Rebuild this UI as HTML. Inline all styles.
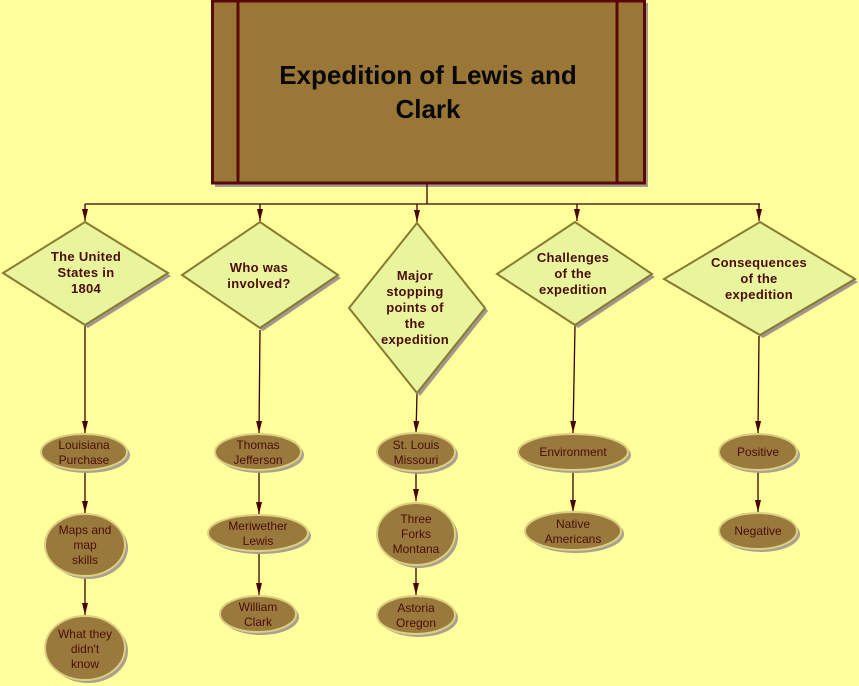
<!DOCTYPE html>
<html><head><meta charset="utf-8"><style>
html,body{margin:0;padding:0;background:#ffff9c;}
svg{display:block}
.d{font-family:"Liberation Sans",sans-serif;font-weight:bold;font-size:13px;fill:#4a0c0c;text-anchor:middle;letter-spacing:0.3px}
.e{font-family:"Liberation Sans",sans-serif;font-size:12px;fill:#4a0c0c;text-anchor:middle}
</style></head><body>
<svg width="859" height="686" viewBox="0 0 859 686" xmlns="http://www.w3.org/2000/svg">
<defs>
<marker id="a" viewBox="0 0 12 8" refX="12" refY="4" markerWidth="12" markerHeight="8" markerUnits="userSpaceOnUse" orient="auto">
<path d="M0,1 L12,4 L0,7 Z" fill="#4a0000"/></marker>
</defs>
<rect width="859" height="686" fill="#ffff9c"/>
<!-- title box -->
<rect x="215" y="3" width="433" height="184" fill="#a09a90"/>
<rect x="212.5" y="1" width="432" height="182" fill="#9a7637" stroke="#5a0808" stroke-width="3"/>
<line x1="238" y1="1" x2="238" y2="183" stroke="#5a0808" stroke-width="3"/>
<line x1="617" y1="1" x2="617" y2="183" stroke="#5a0808" stroke-width="3"/>
<text x="428" y="84" font-family="Liberation Sans, sans-serif" font-weight="bold" font-size="26" text-anchor="middle" fill="#080808">Expedition of Lewis and</text>
<text x="428" y="118" font-family="Liberation Sans, sans-serif" font-weight="bold" font-size="26" text-anchor="middle" fill="#080808">Clark</text>
<!-- connectors -->
<g stroke="#3a0000" stroke-width="1.3" fill="none">
<line x1="427" y1="184" x2="427" y2="204"/>
<line x1="85" y1="204" x2="760" y2="204"/>
<line x1="85" y1="204" x2="85" y2="221" marker-end="url(#a)"/>
<line x1="260" y1="204" x2="260" y2="221" marker-end="url(#a)"/>
<line x1="417" y1="204" x2="417" y2="222" marker-end="url(#a)"/>
<line x1="577" y1="204" x2="577" y2="221" marker-end="url(#a)"/>
<line x1="759" y1="204" x2="759" y2="221" marker-end="url(#a)"/>
<line x1="85" y1="326" x2="85" y2="433" marker-end="url(#a)"/>
<line x1="260" y1="330" x2="259" y2="433" marker-end="url(#a)"/>
<line x1="417" y1="394" x2="416" y2="433" marker-end="url(#a)"/>
<line x1="575" y1="326" x2="573" y2="433" marker-end="url(#a)"/>
<line x1="759" y1="336" x2="758" y2="433" marker-end="url(#a)"/>
<line x1="85" y1="471" x2="85" y2="513" marker-end="url(#a)"/>
<line x1="85" y1="577" x2="85" y2="615" marker-end="url(#a)"/>
<line x1="259" y1="471" x2="259" y2="514" marker-end="url(#a)"/>
<line x1="259" y1="552" x2="259" y2="595" marker-end="url(#a)"/>
<line x1="416" y1="471" x2="416" y2="501" marker-end="url(#a)"/>
<line x1="416" y1="566" x2="416" y2="595" marker-end="url(#a)"/>
<line x1="573" y1="470" x2="573" y2="512" marker-end="url(#a)"/>
<line x1="758" y1="470" x2="758" y2="512" marker-end="url(#a)"/>
</g>
<!-- diamonds -->
<g stroke="#8a7a30" stroke-width="2" fill="#e8f59c">
<polygon points="88,227 171,276 88,328 6,276" fill="#a09890" stroke="none"/>
<polygon points="85,222 168,273 85,325 3,273"/>
<polygon points="263,227 341,278 263,331 185,278" fill="#a09890" stroke="none"/>
<polygon points="260,222 338,275 260,328 182,275"/>
<polygon points="420,228 488,311 420,396 352,311" fill="#a09890" stroke="none"/>
<polygon points="417,223 485,308 417,393 349,308"/>
<polygon points="578,227 655,277 578,328 500,277" fill="#a09890" stroke="none"/>
<polygon points="575,222 652,274 575,325 497,274"/>
<polygon points="763,227 858,282 763,338 667,282" fill="#a09890" stroke="none"/>
<polygon points="760,222 855,279 760,335 664,279"/>
</g>
<text class="d" x="86" y="261">The United</text>
<text class="d" x="86" y="277">States in</text>
<text class="d" x="86" y="293">1804</text>
<text class="d" x="259" y="272">Who was</text>
<text class="d" x="259" y="288">involved?</text>
<text class="d" x="415" y="280">Major</text>
<text class="d" x="415" y="296">stopping</text>
<text class="d" x="415" y="312">points of</text>
<text class="d" x="415" y="328">the</text>
<text class="d" x="415" y="344">expedition</text>
<text class="d" x="573" y="262">Challenges</text>
<text class="d" x="573" y="278">of the</text>
<text class="d" x="573" y="294">expedition</text>
<text class="d" x="759" y="267">Consequences</text>
<text class="d" x="759" y="283">of the</text>
<text class="d" x="759" y="299">expedition</text>
<!-- ellipses -->
<g fill="#9a7a3c" stroke="#ddd080" stroke-width="2">
<g><ellipse cx="87" cy="455" rx="43" ry="18" fill="#a8a090" stroke="none"/><ellipse cx="84" cy="452" rx="43" ry="18"/></g>
<g><ellipse cx="88" cy="548" rx="40" ry="31" fill="#a8a090" stroke="none"/><ellipse cx="85" cy="545" rx="40" ry="31"/></g>
<g><ellipse cx="88" cy="651" rx="40" ry="32" fill="#a8a090" stroke="none"/><ellipse cx="85" cy="648" rx="40" ry="32"/></g>
<g><ellipse cx="261" cy="455" rx="43" ry="18" fill="#a8a090" stroke="none"/><ellipse cx="258" cy="452" rx="43" ry="18"/></g>
<g><ellipse cx="261" cy="536" rx="50" ry="18" fill="#a8a090" stroke="none"/><ellipse cx="258" cy="533" rx="50" ry="18"/></g>
<g><ellipse cx="261" cy="617" rx="38" ry="18" fill="#a8a090" stroke="none"/><ellipse cx="258" cy="614" rx="38" ry="18"/></g>
<g><ellipse cx="419" cy="455" rx="39" ry="19" fill="#a8a090" stroke="none"/><ellipse cx="416" cy="452" rx="39" ry="19"/></g>
<g><ellipse cx="419" cy="537" rx="39" ry="31" fill="#a8a090" stroke="none"/><ellipse cx="416" cy="534" rx="39" ry="31"/></g>
<g><ellipse cx="419" cy="618" rx="39" ry="19" fill="#a8a090" stroke="none"/><ellipse cx="416" cy="615" rx="39" ry="19"/></g>
<g><ellipse cx="576" cy="455" rx="55" ry="18" fill="#a8a090" stroke="none"/><ellipse cx="573" cy="452" rx="55" ry="18"/></g>
<g><ellipse cx="576" cy="534" rx="48" ry="19" fill="#a8a090" stroke="none"/><ellipse cx="573" cy="531" rx="48" ry="19"/></g>
<g><ellipse cx="761" cy="455" rx="39" ry="18" fill="#a8a090" stroke="none"/><ellipse cx="758" cy="452" rx="39" ry="18"/></g>
<g><ellipse cx="761" cy="534" rx="39" ry="18" fill="#a8a090" stroke="none"/><ellipse cx="758" cy="531" rx="39" ry="18"/></g>
</g>
<text class="e" x="84" y="449">Louisiana</text>
<text class="e" x="84" y="464">Purchase</text>
<text class="e" x="85" y="534">Maps and</text>
<text class="e" x="85" y="549">map</text>
<text class="e" x="85" y="564">skills</text>
<text class="e" x="85" y="638">What they</text>
<text class="e" x="85" y="653">didn't</text>
<text class="e" x="85" y="668">know</text>
<text class="e" x="258" y="449">Thomas</text>
<text class="e" x="258" y="464">Jefferson</text>
<text class="e" x="258" y="530">Meriwether</text>
<text class="e" x="258" y="545">Lewis</text>
<text class="e" x="258" y="611">William</text>
<text class="e" x="258" y="626">Clark</text>
<text class="e" x="416" y="449">St. Louis</text>
<text class="e" x="416" y="464">Missouri</text>
<text class="e" x="416" y="523">Three</text>
<text class="e" x="416" y="538">Forks</text>
<text class="e" x="416" y="553">Montana</text>
<text class="e" x="416" y="612">Astoria</text>
<text class="e" x="416" y="627">Oregon</text>
<text class="e" x="573" y="456">Environment</text>
<text class="e" x="573" y="528">Native</text>
<text class="e" x="573" y="543">Americans</text>
<text class="e" x="758" y="456">Positive</text>
<text class="e" x="758" y="535">Negative</text>
</svg>
</body></html>
